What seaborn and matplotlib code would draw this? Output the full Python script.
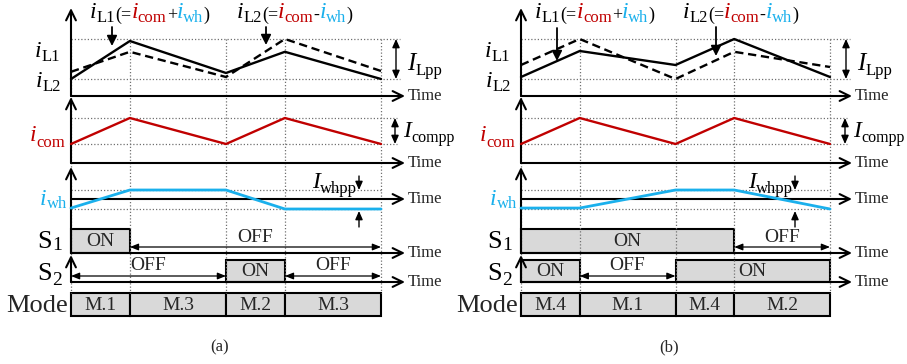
import matplotlib
matplotlib.use("Agg")
import matplotlib.pyplot as plt
import seaborn as sns

sns.set_theme(style="white")
plt.rcParams["font.family"] = ["Liberation Serif", "DejaVu Serif"]

# switching instants (fraction of one period)
t_edges = [0.0, 0.19, 0.50, 0.69, 1.0]

# normalised waveforms (0 = lower dotted level, 1 = upper)
a_iL1 = [0.0, 0.95, 0.15, 0.68, 0.0]
a_iL2 = [0.18, 0.68, 0.05, 1.0, 0.2]
b_iL1 = [0.05, 0.70, 0.35, 1.0, 0.05]
b_iL2 = [0.35, 1.0, 0.0, 0.68, 0.30]
i_com = [0.0, 1.0, 0.0, 1.0, 0.0]
a_iwh = [0.05, 1.0, 1.0, 0.0, 0.0]
b_iwh = [0.05, 0.05, 1.0, 1.0, 0.0]

a_S1 = ["ON", "OFF", "OFF", "OFF"]
a_S2 = ["OFF", "OFF", "ON", "OFF"]
b_S1 = ["ON", "ON", "ON", "OFF"]
b_S2 = ["ON", "OFF", "ON", "ON"]
a_mode = ["M.1", "M.3", "M.2", "M.3"]
b_mode = ["M.4", "M.1", "M.4", "M.2"]

RED = "#c00000"
BLUE = "#1ab0ec"
GRAY = "#d9d9d9"
DOT = dict(color="#707070", lw=0.9, linestyle=(0, (1, 1.6)), clip_on=False)

W, H = 907, 364
fig = plt.figure(figsize=(W / 100, H / 100), dpi=100)


def groups(states):
    out = []
    start = 0
    for i in range(1, len(states) + 1):
        if i == len(states) or states[i] != states[start]:
            out.append((t_edges[start], t_edges[i], states[start]))
            start = i
    return out


def arrow(ax, x0, y0, x1, y1, style="->", lw=1.5, hl=0.45, hw=0.22, ms=16):
    ax.annotate("", xy=(x1, y1), xytext=(x0, y0), annotation_clip=False,
                arrowprops=dict(arrowstyle=f"{style},head_length={hl},head_width={hw}",
                                lw=lw, color="black", shrinkA=0, shrinkB=0,
                                mutation_scale=ms))


def rich_text(ax, x, y, parts, ha="left"):
    # parts: (text, colour, size, drop in px, italic)
    r = fig.canvas.get_renderer()
    texts = []
    for s, c, fs, dy, it in parts:
        texts.append(ax.text(x, y + dy, s, color=c, fontsize=fs, va="baseline", ha="left",
                             fontstyle="italic" if it else "normal"))
    widths = [t.get_window_extent(r).width for t in texts]
    X = ax.transData.transform((x, y))[0]
    if ha == "right":
        X -= sum(widths)
    inv = ax.transData.inverted()
    for t, w in zip(texts, widths):
        t.set_x(inv.transform((X, 0))[0])
        X += w


def sub_label(ax, x, y, main, sub, color="black", fs=17, sfs=12, dy=4, ha="right", it=True):
    rich_text(ax, x, y, [(main, color, fs, 0, it), (sub, color, sfs, dy, False)], ha=ha)


def strip(ox, L, y_top, y_bot):
    ax = fig.add_axes([ox / W, 1 - y_bot / H, L / W, (y_bot - y_top) / H])
    ax.set_xlim(0, 1)
    ax.set_ylim(0, 1)
    ax.axis("off")
    ax.patch.set_visible(False)
    return ax


def panel(ox, L, iL1, iL2, iwh, S1, S2, modes, tag, time_px, whpp_px, lab1_px, lab2_px, arr1, arr2):
    p = lambda px: (px - ox) / L
    tax = fig.add_axes([ox / W, 0, L / W, 1])
    tax.set_xlim(0, 1)
    tax.set_ylim(H, 0)
    tax.axis("off")
    tax.patch.set_visible(False)

    # dotted guides
    tax.vlines(t_edges, 39, 293, **DOT)
    tax.hlines([39, 79], 0, p(ox + 329), **DOT)
    tax.hlines([118, 144], 0, p(ox + 326), **DOT)
    tax.hlines([190, 209], 0, 1.0, **DOT)

    # waveforms
    ax1 = strip(ox, L, 39, 79)
    sns.lineplot(x=t_edges, y=iL1, ax=ax1, color="black", lw=1.7, sort=False, clip_on=False)
    sns.lineplot(x=t_edges, y=iL2, ax=ax1, color="black", lw=1.7, sort=False, clip_on=False,
                 linestyle=(0, (3.5, 2)))
    ax2 = strip(ox, L, 118, 144)
    sns.lineplot(x=t_edges, y=i_com, ax=ax2, color=RED, lw=1.7, sort=False, clip_on=False)
    ax3 = strip(ox, L, 190, 209)
    sns.lineplot(x=t_edges, y=iwh, ax=ax3, color=BLUE, lw=2.0, sort=False, clip_on=False)

    # axes
    for yb, yt in [(96, 8), (163, 97), (253, 167), (282, 255)]:
        arrow(tax, 0, yb, 0, yt)
    for y in [96, 163, 199, 253, 282]:
        arrow(tax, 0, y, p(time_px), y)
        tax.text(p(time_px + 3), y, "Time", fontsize=12, va="center", ha="left")

    # peak-to-peak markers
    arrow(tax, p(ox + 325), 39, p(ox + 325), 79, style="<|-|>", lw=1.0, hl=0.5, hw=0.22, ms=10)
    sub_label(tax, p(ox + 336), 70, "I", "Lpp", fs=18, sfs=12, dy=5, ha="left")
    arrow(tax, p(ox + 324), 118, p(ox + 324), 144, style="<|-|>", lw=1.0, hl=0.5, hw=0.22, ms=10)
    sub_label(tax, p(ox + 332), 137, "I", "compp", fs=17, sfs=11.5, dy=5, ha="left")
    arrow(tax, p(whpp_px), 176, p(whpp_px), 190, style="-|>", lw=1.0, hl=0.5, hw=0.22, ms=10)
    arrow(tax, p(whpp_px), 227, p(whpp_px), 211, style="-|>", lw=1.0, hl=0.5, hw=0.22, ms=10)
    sub_label(tax, p(whpp_px - 2), 188, "I", "whpp", fs=17, sfs=12, dy=5, ha="right")

    # left labels
    sub_label(tax, p(ox - 11), 57, "i", "L1", dy=4)
    sub_label(tax, p(ox - 10), 87, "i", "L2", dy=4)
    sub_label(tax, p(ox - 6), 141, "i", "com", color=RED, dy=6)
    sub_label(tax, p(ox - 4), 205, "i", "wh", color=BLUE, dy=3)
    sub_label(tax, p(ox - 9), 248, "S", "1", fs=19, sfs=14, dy=2, it=False)
    sub_label(tax, p(ox - 9), 280, "S", "2", fs=19, sfs=14, dy=5, it=False)
    tax.text(p(ox - 3), 312, "Mode", fontsize=19, va="baseline", ha="right")

    # top annotations
    for lx, sub, sign in [(lab1_px, "L1", "+"), (lab2_px, "L2", "-")]:
        rich_text(tax, p(lx), 18, [
            ("i", "black", 17, 0, True), (sub, "black", 12, 4, False),
            ("(=", "black", 13, 2, False),
            ("i", RED, 17, 0, True), ("com", RED, 12, 4, False),
            (sign, "black", 13, 2, False),
            ("i", BLUE, 17, 0, True), ("wh", BLUE, 12, 4, False),
            (")", "black", 13, 2, False),
        ])
    for ax_x, y0, y1 in [arr1, arr2]:
        arrow(tax, p(ax_x), y0, p(ax_x), y1, style="-|>", lw=1.3, hl=0.5, hw=0.25, ms=12)

    # switch states
    for states, ytop, ybot, yarr, ytxt in [(S1, 229, 253, 247, 238), (S2, 260, 282, 276, 266)]:
        for a, b, s in groups(states):
            if s == "ON":
                tax.bar(a, ybot - ytop, width=b - a, bottom=ytop, align="edge",
                        color=GRAY, edgecolor="black", lw=1.5, clip_on=False)
                tax.text((a + b) / 2, (ytop + ybot) / 2 + 1, "ON", fontsize=14,
                         ha="center", va="center")
            else:
                arrow(tax, a, yarr, b, yarr, style="<|-|>", lw=0.9, hl=0.5, hw=0.2, ms=10)
                tax.text((a + b) / 2, ytxt, "OFF", fontsize=14, ha="center", va="center")

    # modes
    for i, m in enumerate(modes):
        a, b = t_edges[i], t_edges[i + 1]
        tax.bar(a, 23, width=b - a, bottom=293, align="edge", color=GRAY,
                edgecolor="black", lw=1.5, clip_on=False)
        tax.text((a + b) / 2, 305, m, fontsize=14, ha="center", va="center")

    tax.text(0.48, 347, tag, fontsize=12, ha="center", va="center")


panel(71, 310, a_iL1, a_iL2, a_iwh, a_S1, a_S2, a_mode, "(a)",
      405, 359, 90, 237, (112, 27, 46), (266, 27, 45))
panel(521, 309, b_iL1, b_iL2, b_iwh, b_S1, b_S2, b_mode, "(b)",
      852, 795, 535, 683, (557, 28, 61), (716, 27, 56))

fig.savefig("out.png", dpi=100)
